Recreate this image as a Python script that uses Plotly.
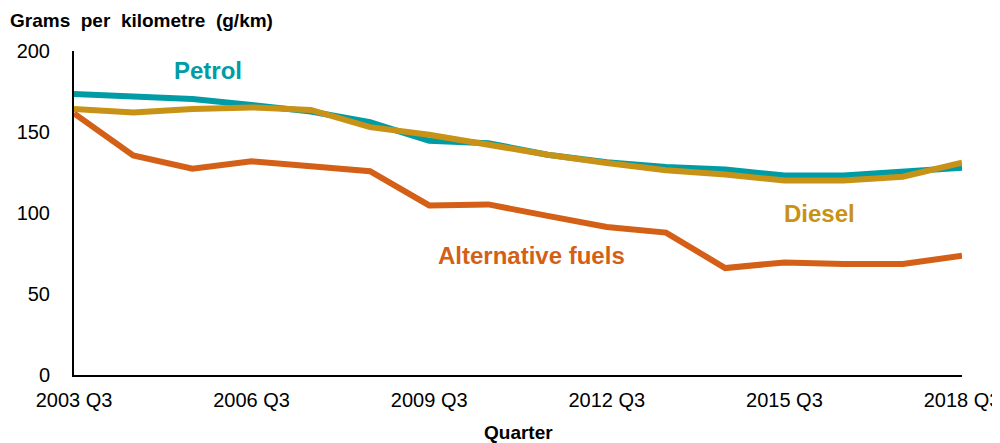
import plotly.graph_objects as go

quarters = [f"{y} Q3" for y in range(2003, 2019)]
tick_labels = ["2003 Q3", "2006 Q3", "2009 Q3", "2012 Q3", "2015 Q3", "2018 Q3"]

petrol = [173.5, 172.2, 170.3, 166.7, 162.6, 156.0, 144.6, 143.1, 136.0, 131.3, 128.4, 126.8, 123.1, 123.1, 125.3, 128.0]
diesel = [164.2, 162.0, 164.2, 165.2, 163.6, 153.0, 148.3, 142.0, 136.0, 130.9, 126.4, 123.8, 120.0, 120.0, 122.4, 131.0]
alt_fuels = [161.5, 135.6, 127.4, 131.9, 128.8, 125.8, 104.7, 105.3, 98.2, 91.4, 87.9, 66.0, 69.5, 68.5, 68.5, 73.6]

c_petrol = "#009CA6"
c_diesel = "#C89216"
c_alt = "#D45F16"

fig = go.Figure()
for name, vals, col in [("Alternative fuels", alt_fuels, c_alt),
                        ("Petrol", petrol, c_petrol),
                        ("Diesel", diesel, c_diesel)]:
    fig.add_trace(go.Scatter(x=quarters, y=vals, mode="lines", name=name,
                             line=dict(color=col, width=6), showlegend=False))

font_fam = "Liberation Sans, Arial, sans-serif"
L, T, PW, PH = 66, 43, 888, 324
fig.update_layout(
    width=1000, height=443,
    margin=dict(l=L, r=1000 - L - PW, t=T, b=443 - T - PH, autoexpand=False),
    paper_bgcolor="white", plot_bgcolor="white",
    font=dict(family=font_fam, size=20, color="black"),
    xaxis=dict(
        type="category", range=[0, 15], showgrid=False, zeroline=False,
        showline=True, linecolor="black", linewidth=2,
        tickmode="array", tickvals=tick_labels, ticktext=tick_labels,
        ticks="", ticklabelstandoff=6,
    ),
    yaxis=dict(
        range=[0, 200], showgrid=False, zeroline=False,
        showline=True, linecolor="black", linewidth=2,
        tickvals=[0, 50, 100, 150, 200], ticks="", ticklabelstandoff=18,
    ),
    annotations=[
        dict(text="<b>Grams&nbsp; per&nbsp; kilometre&nbsp; (g/km)</b>", xref="paper", yref="paper",
             x=-L / PW, y=1.0, yshift=31, xanchor="left", yanchor="middle",
             showarrow=False, font=dict(size=19, color="black")),
        dict(text="<b>Quarter</b>", xref="paper", yref="paper",
             x=0.5, y=0, yshift=-57, xanchor="center", yanchor="middle",
             showarrow=False, font=dict(size=19, color="black")),
        dict(text="<b>Petrol</b>", xref="x", yref="y", x=2.26, y=188,
             showarrow=False, font=dict(size=24, color=c_petrol)),
        dict(text="<b>Diesel</b>", xref="x", yref="y", x=12.6, y=99.7,
             showarrow=False, font=dict(size=24, color=c_diesel)),
        dict(text="<b>Alternative fuels</b>", xref="x", yref="y", x=7.72, y=73.8,
             showarrow=False, font=dict(size=24, color=c_alt)),
    ],
)

fig.write_html("out.html")
